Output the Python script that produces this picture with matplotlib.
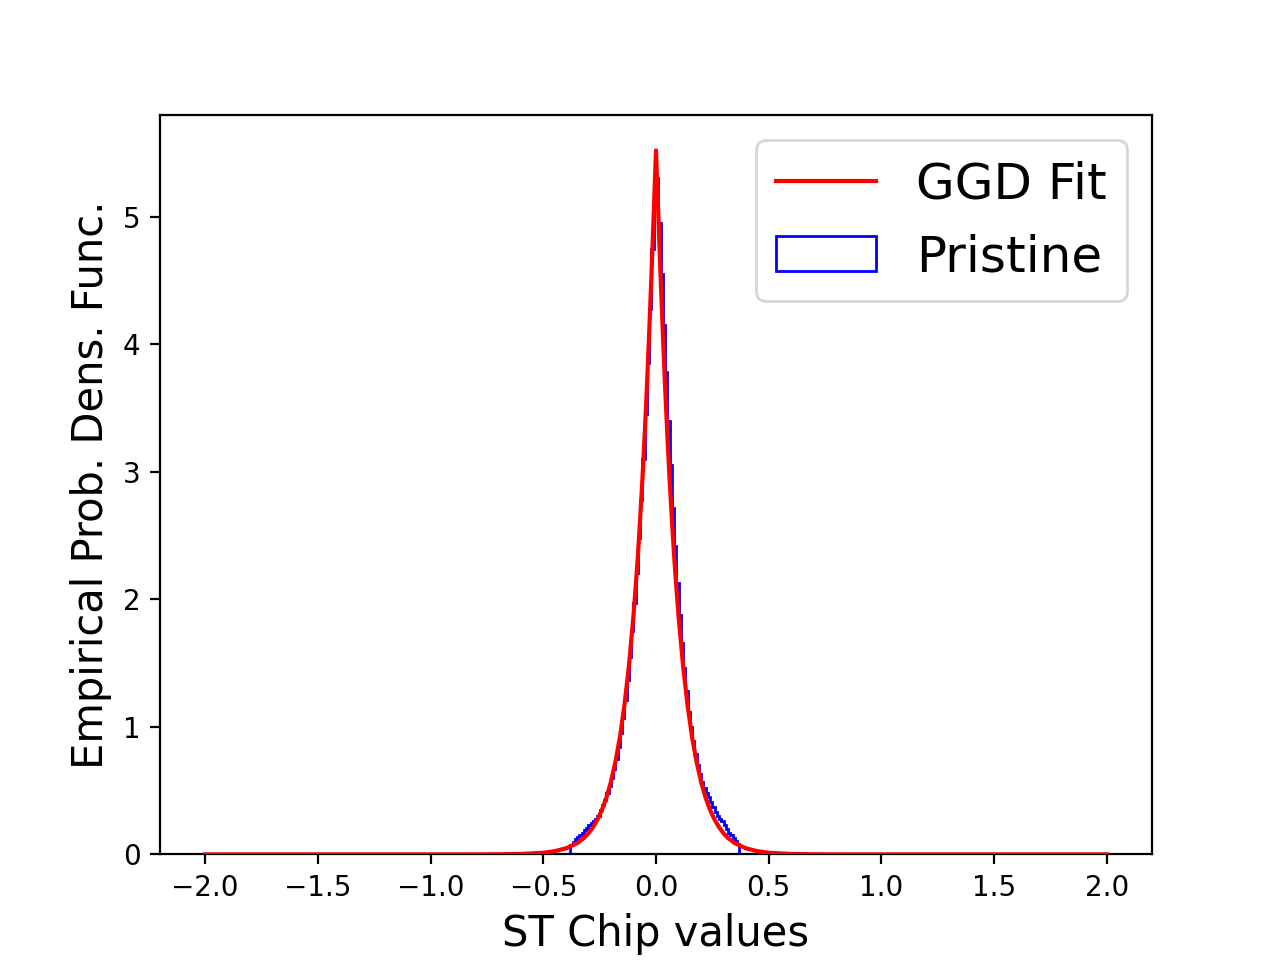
import numpy as np
import matplotlib
matplotlib.use("Agg")
import matplotlib.pyplot as plt

# GGD fit curve
fit_x = [-2.00, -1.00, -0.80, -0.70, -0.60, -0.50, -0.45, -0.40, -0.35, -0.32, -0.30,
         -0.28, -0.26, -0.24, -0.22, -0.20, -0.18, -0.16, -0.14, -0.12, -0.10,
         -0.09, -0.08, -0.07, -0.06, -0.05, -0.04, -0.03, -0.02, -0.01, 0.00,
         0.01, 0.02, 0.03, 0.04, 0.05, 0.06, 0.07, 0.08, 0.09, 0.10,
         0.12, 0.14, 0.16, 0.18, 0.20, 0.22, 0.24, 0.26, 0.28, 0.30,
         0.32, 0.35, 0.40, 0.45, 0.50, 0.60, 0.70, 0.80, 1.00, 2.00]
fit_y = [0.0, 0.0, 0.0003, 0.001, 0.0035, 0.013, 0.025, 0.047, 0.088, 0.128, 0.165,
         0.212, 0.272, 0.348, 0.445, 0.568, 0.725, 0.92, 1.17, 1.48, 1.87,
         2.10, 2.35, 2.64, 2.95, 3.30, 3.68, 4.10, 4.55, 5.03, 5.52,
         5.03, 4.55, 4.10, 3.68, 3.30, 2.95, 2.64, 2.35, 2.10, 1.87,
         1.48, 1.17, 0.92, 0.725, 0.568, 0.445, 0.348, 0.272, 0.212, 0.165,
         0.128, 0.088, 0.047, 0.025, 0.013, 0.0035, 0.001, 0.0003, 0.0, 0.0]

# Pristine histogram (density), bins of width 0.01 on [-0.4, 0.4], zero elsewhere on [-2, 2]
hist_neg = [0.0, 0.0, 0.07, 0.10, 0.12, 0.14, 0.15, 0.17, 0.19, 0.21,
            0.23, 0.25, 0.26, 0.28, 0.30, 0.35, 0.39, 0.43, 0.48, 0.54,
            0.60, 0.67, 0.75, 0.84, 0.95, 1.07, 1.21, 1.37, 1.55, 1.75,
            1.97, 2.21, 2.48, 2.78, 3.10, 3.45, 3.85, 4.28, 4.75, 5.25]
hist_pos = [5.30, 4.95, 4.55, 4.15, 3.78, 3.40, 3.05, 2.72, 2.42, 2.13,
            1.88, 1.66, 1.46, 1.28, 1.12, 1.00, 0.89, 0.79, 0.70, 0.63,
            0.57, 0.52, 0.48, 0.45, 0.41, 0.37, 0.33, 0.30, 0.28, 0.26,
            0.23, 0.20, 0.17, 0.15, 0.13, 0.105, 0.08, 0.0, 0.0, 0.0]
hist_range = (-2.0, 2.0)
fine_range = (-0.4, 0.4)

heights = [0.0] + hist_neg + hist_pos + [0.0]
edges = np.concatenate([[hist_range[0]],
                        np.linspace(fine_range[0], fine_range[1], len(hist_neg) + len(hist_pos) + 1),
                        [hist_range[1]]])
centers = 0.5 * (edges[:-1] + edges[1:])

fig, ax = plt.subplots(figsize=(6.4, 4.8), dpi=200)
ax.plot(fit_x, fit_y, color="red", lw=1.5, label="GGD Fit", zorder=3)
ax.hist(centers, bins=edges, weights=heights, histtype="step", color="blue",
        label="Pristine", zorder=2)

ax.set_xlabel("ST Chip values", fontsize=15)
ax.set_ylabel("Empirical Prob. Dens. Func.", fontsize=15)
ax.legend(loc="upper right", fontsize=18)

fig.savefig("out.png", dpi=200)
